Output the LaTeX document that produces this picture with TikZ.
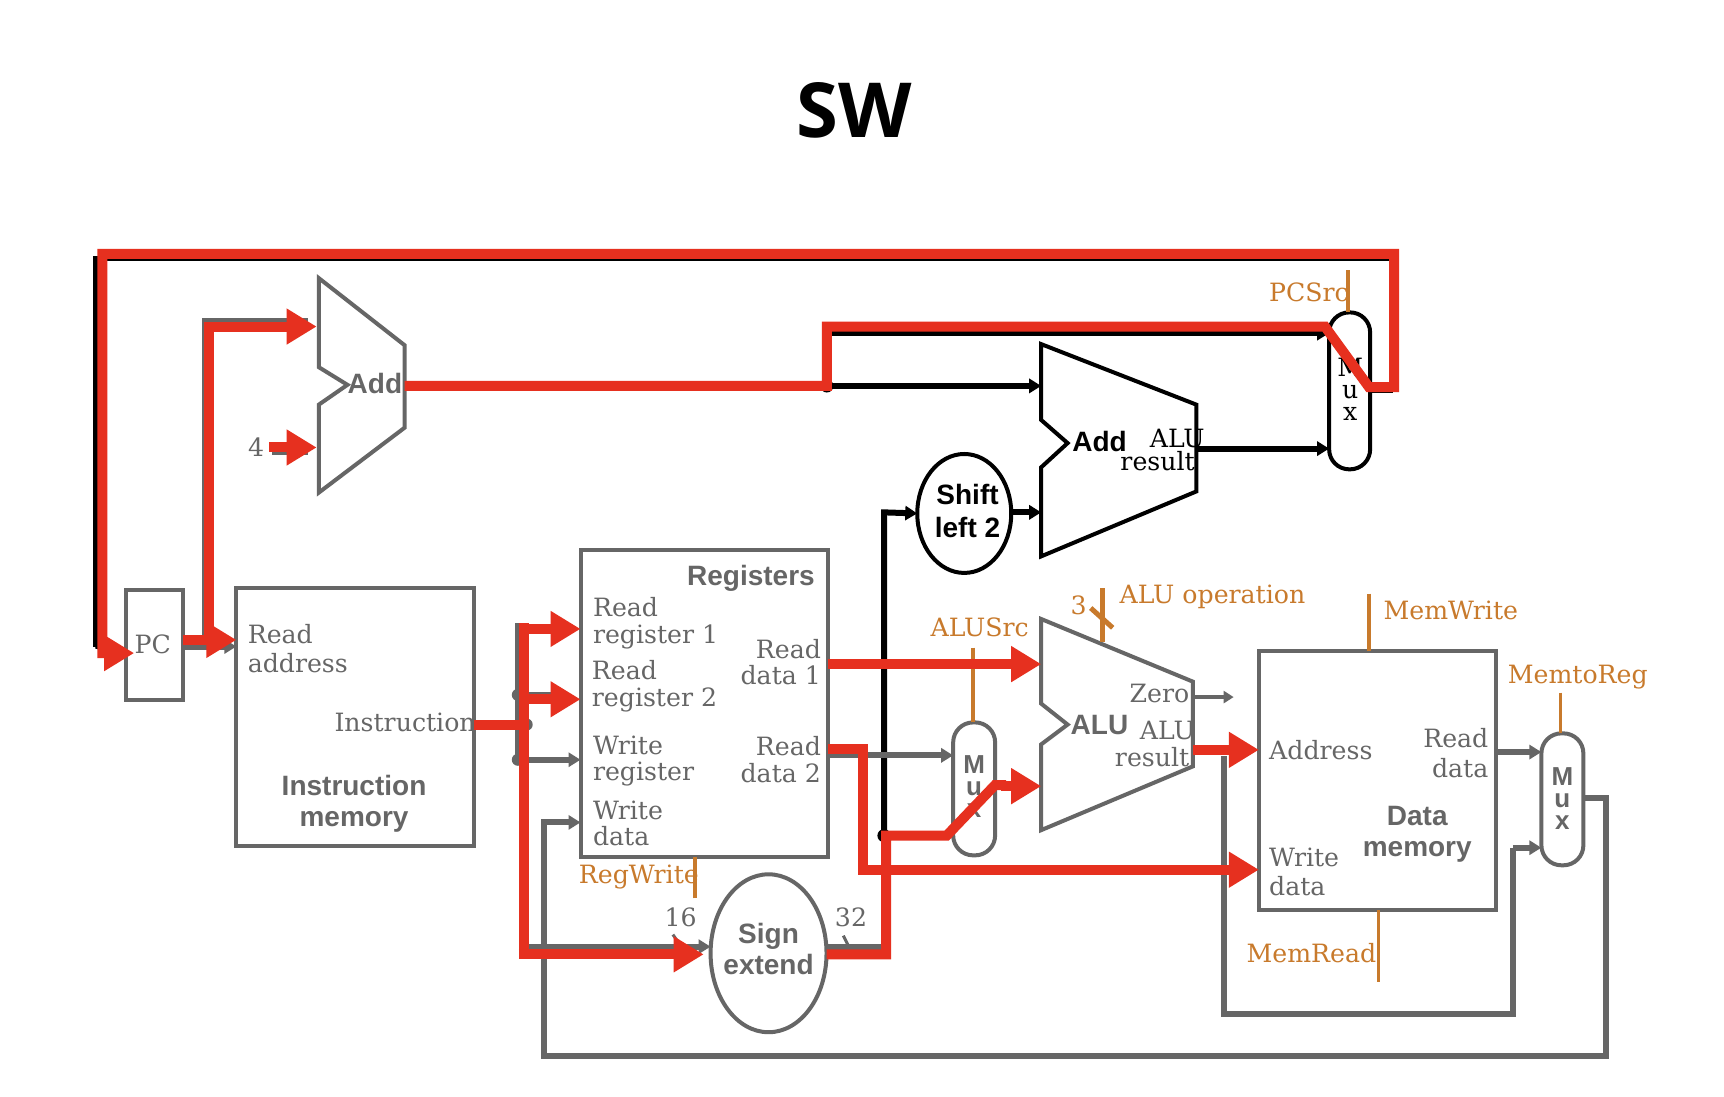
\documentclass[tikz,border=0pt]{standalone}
\usepackage{fontspec}
\setmainfont{DejaVu Serif}
\setsansfont{Liberation Sans}
\newfontfamily\titlefont{Open Sans}
\usepackage{xcolor}
\usepackage{tikz}
\usetikzlibrary{shapes,arrows.meta,positioning,fit}

\definecolor{wirered}{HTML}{E6301F}
\definecolor{unitgray}{HTML}{666666}
\definecolor{ctrlorange}{HTML}{C87A2C}

\begin{document}
\begin{tikzpicture}[
    x=0.55pt, y=-0.55pt,
    unitbox/.style={draw=unitgray, line width=2pt, inner sep=0pt, outer sep=0pt},
    unitblack/.style={draw=black, line width=2pt, inner sep=0pt, outer sep=0pt},
    serif/.style={inner sep=0pt, text=unitgray, align=left, font=\fontsize{12.6}{13.2}\selectfont},
    serifwide/.style={serif, font=\fontsize{12.6}{14.6}\selectfont},
    boldlabel/.style={inner sep=0pt, text=unitgray, align=center,
                      font=\sffamily\bfseries\fontsize{14}{15.6}\selectfont},
    ctrltext/.style={serif, text=ctrlorange},
    ctrlline/.style={draw=ctrlorange, line width=1.7pt},
    redwire/.style={draw=wirered, line width=5pt, miter limit=6},
    redarrow/.style={redwire, -{Triangle[length=15pt,width=17pt]}},
    graywire/.style={draw=unitgray, line width=3pt},
    grayarrow/.style={graywire, -{Triangle[length=6pt,width=7pt]}},
    blackwire/.style={draw=black, line width=3pt},
    blackarrow/.style={blackwire, -{Triangle[length=6pt,width=7pt]}},
    muxtext/.style={font=\sffamily\bfseries\fontsize{13}{11}\selectfont, align=center, inner sep=0pt}
]
\useasboundingbox (0,0) rectangle (1568,997);
\fill[white] (0,0) rectangle (1568,997);

\node[font=\titlefont\bfseries\fontsize{38}{38}\selectfont, inner sep=0pt] (title) at (777,100) {SW};

% Units
\node[unitbox, fit={(115,537) (166,637)}] (pc) {};
\node[unitbox, fit={(215,535) (431,769)}] (imem) {};
\node[unitbox, fit={(528,500) (753,779)}] (regs) {};
\node[unitbox, fit={(1145,592) (1361,828)}] (dmem) {};
\node[unitbox, ellipse, minimum width=58pt, minimum height=79pt] (signx) at (699,867) {};
\node[unitblack, ellipse, minimum width=47pt, minimum height=59.5pt] (shift) at (877,467) {};
\node[unitblack, rounded corners=10pt, minimum width=20.5pt, minimum height=78.5pt] (muxpc) at (1227.5,355.5) {};
\node[unitbox, rounded corners=10pt, minimum width=21pt, minimum height=66.5pt] (muxalu) at (886,717.5) {};
\node[unitbox, rounded corners=10pt, minimum width=21pt, minimum height=66pt] (muxmem) at (1421,727) {};

% Adders and ALU
\draw[unitbox] (290,253) -- (368,314) -- (368,389) -- (290,448) -- (290,368)
  -- (316,350) -- (290,334) -- cycle;
\draw[unitblack] (947,313) -- (1088,368) -- (1088,447) -- (947,506) -- (947,425)
  -- (971,403) -- (947,382) -- cycle;
\draw[unitbox] (947,563) -- (1085,620) -- (1085,697) -- (947,755) -- (947,677)
  -- (971,659) -- (947,640) -- cycle;

% Ports and bends
\coordinate (addout) at (368,351);
\coordinate (addina) at (288,297);
\coordinate (addinb) at (288,407);
\coordinate (addpath) at (752,351);
\coordinate (addsum) at (947,351);
\coordinate (pcin) at (122,594);
\coordinate (pcsplit) at (190,582);
\coordinate (instr) at (477,659);
\coordinate (instrb) at (471,691);
\coordinate (instrc) at (471,632);
\coordinate (extend) at (806,760);
\coordinate (sigin) at (804,760);
\coordinate (signin) at (640,868);
\coordinate (alua) at (947,604);
\coordinate (alub) at (947,715);
\coordinate (aluout) at (1085,682);
\coordinate (memaddr) at (1145,682);
\coordinate (memdata) at (1145,791);
\coordinate (addbin) at (947,466);

% Black and gray wires below
\draw[blackwire, line width=2.2pt] (muxpc.east |- 0,355) -- (1265,355) -- (1265,235) -- (87,235) -- (87,588);
\draw[blackwire, line width=2pt, -{Triangle[length=6pt,width=7pt]}] (87,588) -- (pc.west |- 0,596);
\draw[blackarrow] (addpath) -- (addsum);
\draw[blackwire] (addpath) -- (752,303);
\draw[blackarrow] (752,303) -- (muxpc.west |- 0,303);
\draw[blackarrow] (1088,408) -- (muxpc.west |- 0,408);
\draw[blackarrow] (sigin) -- (804,466) -- (shift.west);
\draw[blackarrow] (shift.east |- addbin) -- (addbin);
\fill[black] (addpath) circle (6);
\fill[black] (sigin) circle (6);

\draw[grayarrow] (pc.east |- 0,588) -- (imem.west |- 0,588);
\draw[graywire] (186,588) -- (186,292) -- (280,292);
\draw[graywire] (247,411) -- (280,411);
\draw[graywire] (471,567) -- (471,695);
\draw[graywire] (471,632) -- (510,632);
\draw[grayarrow] (instrb) -- (regs.west |- instrb);
\draw[grayarrow] (477,861) -- (signx.west |- 0,861);
\fill[unitgray] (instrb) circle (5.5);
\fill[unitgray] (instrc) circle (5.5);
\fill[unitgray] (479,659) circle (5.5);
\draw[graywire] (signx.east |- 0,861) -- (804,861);
\draw[grayarrow] (regs.east |- 0,687) -- (muxalu.west |- 0,687);
\draw[graywire, line width=2pt, -{Triangle[length=5pt,width=6pt]}] (1085,634) -- (1122,634);
\draw[graywire] (1113,688) -- (1113,922) -- (1376,922) -- (1376,771);
\draw[grayarrow] (1376,771) -- (muxmem.west |- 0,771);
\draw[grayarrow] (dmem.east |- 0,684) -- (muxmem.west |- 0,684);
\draw[grayarrow] (muxmem.east |- 0,726) -- (1461,726) -- (1461,960) -- (495,960) -- (495,748)
  -- (regs.west |- 0,748);
\draw[graywire, line width=1.5pt] (612,850) -- (621,863);
\draw[graywire, line width=1.5pt] (767,851) -- (777,871);

% Control lines
\draw[ctrlline] (1226,246) -- (muxpc.north -| 1226,0);
\draw[ctrlline] (885,589) -- (muxalu.north -| 885,0);
\draw[ctrlline, line width=2.5pt] (1003,535) -- (1003,584);
\draw[ctrlline, line width=2.5pt] (992,553) -- (1012,571);
\draw[ctrlline] (1245,540) -- (dmem.north -| 1245,0);
\draw[ctrlline] (1254,893) -- (dmem.south -| 1254,0);
\draw[ctrlline] (1419,630) -- (muxmem.north -| 1419,0);
\draw[ctrlline] (632,817) -- (regs.south -| 632,0);

% Unit text
\node[serif] (pcla) at (139,586) {PC};
\node[boldlabel] (addla) at (341,349) {Add};
\node[serif] (four) at (233,407) {4};
\node[serifwide, anchor=west] (readaddr) at (225,590) {Read\\address};
\node[serif, anchor=east] (instrout) at (433,657) {Instruction};
\node[boldlabel] (imemla) at (322,731) {Instruction\\memory};
\node[boldlabel] (regsla) at (683,526) {Registers};
\node[serif, anchor=west] (rr1) at (539,567) {Read\\register 1};
\node[serif, anchor=west] (rr2) at (538,624) {Read\\register 2};
\node[serif, anchor=west] (wr) at (539,692) {Write\\register};
\node[serif, anchor=west] (wd) at (539,749) {Write\\data};
\node[serif, anchor=east, align=right] (rd1) at (747,602) {Read\\data 1};
\node[serif, anchor=east, align=right] (rd2) at (747,691) {Read\\data 2};
\node[boldlabel] (signla) at (699,863) {Sign\\extend};
\node[serif] (sixteen) at (619,834) {16};
\node[serif] (thirtytwo) at (774,834) {32};
\node[boldlabel, text=black, font=\sffamily\bfseries\fontsize{14}{16.5}\selectfont] (shiftla) at (880,465) {Shift\\left 2};
\node[serif, text=black, align=center, font=\fontsize{12.6}{11}\selectfont] (muxpcla) at (1228,354) {M\\u\\x};
\node[muxtext, text=unitgray] (muxalula) at (886,715) {M\\u\\x};
\node[muxtext, text=unitgray] (muxmemla) at (1421,726) {M\\u\\x};
\node[boldlabel, text=black] (addlb) at (1000,402) {Add};
\node[serif, text=black, anchor=east] (alur1) at (1096,399) {ALU};
\node[serif, text=black, anchor=east] (alur2) at (1087,419) {result};
\node[boldlabel] (alula) at (1000,659) {ALU};
\node[serif, anchor=east] (zero) at (1082,631) {Zero};
\node[serif, anchor=east] (alus1) at (1087,664) {ALU};
\node[serif, anchor=east] (alus2) at (1082,689) {result};
\node[serif, anchor=west] (addrla) at (1154,682) {Address};
\node[serifwide, anchor=west] (wdm) at (1154,793) {Write\\data};
\node[serifwide, anchor=east, align=right] (rdm) at (1354,685) {Read\\data};
\node[boldlabel] (dmemla) at (1289,759) {Data\\memory};

% Control text
\node[ctrltext, anchor=east] (pcsrc) at (1227,266) {PCSrc};
\node[ctrltext] (alusrc) at (891,571) {ALUSrc};
\node[ctrltext] (three) at (981,551) {3};
\node[ctrltext, anchor=west] (aluop) at (1018,543) {ALU operation};
\node[ctrltext, anchor=west] (memwr) at (1258,555) {MemWrite};
\node[ctrltext] (memto) at (1435,616) {MemtoReg};
\node[ctrltext, anchor=east] (memrd) at (1252,867) {MemRead};
\node[ctrltext] (regwr) at (581,798) {RegWrite};

% Active path in red
\draw[redarrow] (addout) -- (addpath) -- (752,297) -- (1205,297) -- (1245,352) -- (1268,352)
  -- (1268,231) -- (93,231) -- (93,594) -- (pcin);
\draw[redarrow] (pc.east |- pcsplit) -- (imem.west |- pcsplit);
\draw[redarrow] (pcsplit) -- (190,297) -- (addina);
\draw[redarrow] (245,407) -- (addinb);
\draw[redwire] (imem.east |- instr) -- (instr);
\draw[redarrow] (477,572) -- (regs.west |- 0,572);
\draw[redarrow] (477,636) -- (regs.west |- 0,636);
\draw[redwire] (477,567) -- (477,868);
\draw[redarrow] (472,868) -- (signin);
\draw[redwire] (signx.east |- 0,868) -- (806,868) -- (extend) -- (861,760) -- (905,714) -- (915,714);
\draw[redarrow] (910,715) -- (alub);
\draw[redarrow] (regs.east |- alua) -- (alua);
\draw[redarrow] (regs.east |- 0,681) -- (785,681) -- (785,791) -- (memdata);
\draw[redarrow] (aluout) -- (memaddr);
\end{tikzpicture}
\end{document}
